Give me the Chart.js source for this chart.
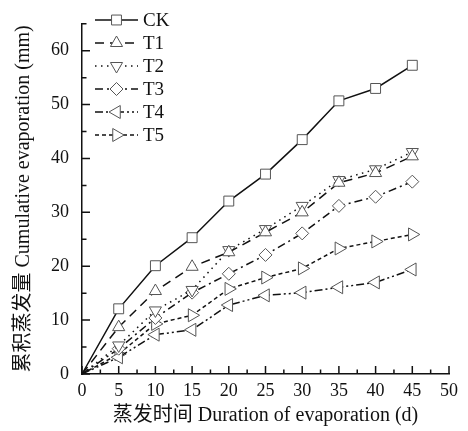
<!DOCTYPE html>
<html>
<head>
<meta charset="utf-8">
<script src="https://cdn.jsdelivr.net/npm/chart.js@4.4.1/dist/chart.umd.min.js"></script>
<style>
html,body{margin:0;padding:0;background:#fff;}
#wrap{width:468px;height:431px;position:relative;}
</style>
</head>
<body>
<div id="wrap"><canvas id="c" width="468" height="431"></canvas></div>
<script>
const days = [0, 5, 10, 15, 20, 25, 30, 35, 40, 45];
const CK = [0, 12.1, 20.1, 25.3, 32.1, 37.1, 43.5, 50.7, 53.0, 57.3];
const T1 = [0, 8.7, 15.4, 19.9, 22.6, 26.3, 30.0, 35.5, 37.3, 40.4];
const T2 = [0, 5.3, 11.8, 15.6, 23.0, 26.9, 31.2, 36.0, 38.0, 41.2];
const T3 = [0, 4.7, 10.4, 15.1, 18.6, 22.1, 26.1, 31.2, 32.9, 35.7];
const T4 = [0, 3.1, 7.3, 8.2, 12.8, 14.6, 15.1, 16.1, 17.0, 19.4];
const T5 = [0, 3.7, 9.3, 10.9, 15.8, 17.9, 19.6, 23.3, 24.6, 25.9];
const seriesNames = ['CK', 'T1', 'T2', 'T3', 'T4', 'T5'];
const xTickLabels = [0, 5, 10, 15, 20, 25, 30, 35, 40, 45, 50];
const yTickLabels = [0, 10, 20, 30, 40, 50, 60];

const FONT = "'Liberation Serif', 'Noto Sans CJK SC', serif";
const styles = [
  {style: 'rect', rot: 0, r: 7, dash: []},
  {style: 'triangle', rot: 0, r: 7, dash: [9, 6]},
  {style: 'triangle', rot: 180, r: 7, dash: [1.5, 4.5]},
  {style: 'rectRot', rot: 0, r: 6.5, dash: [8, 4, 2, 4]},
  {style: 'triangle', rot: 270, r: 7.5, dash: [8, 3, 2, 3, 2, 3]},
  {style: 'triangle', rot: 90, r: 7.5, dash: [4, 3]}
];
const allData = [CK, T1, T2, T3, T4, T5];

const datasets = allData.map((arr, i) => ({
  label: seriesNames[i],
  data: days.map((d, k) => ({x: d, y: arr[k]})),
  borderColor: '#111',
  borderWidth: 1.5,
  borderDash: styles[i].dash,
  pointStyle: styles[i].style,
  pointRotation: styles[i].rot,
  pointRadius: days.map((d) => d === 0 ? 0 : styles[i].r),
  pointBorderColor: '#555',
  pointBackgroundColor: '#fff',
  pointBorderWidth: 1,
  fill: false,
  tension: 0,
  clip: false
}));

const tickPlugin = {
  id: 'inTicks',
  afterDraw(chart) {
    const ctx = chart.ctx;
    const xs = chart.scales.x, ys = chart.scales.y;
    ctx.save();
    ctx.strokeStyle = '#111';
    ctx.lineWidth = 1.5;
    ctx.setLineDash([]);
    ctx.beginPath();
    for (let v = 0; v <= 50; v += 2.5) {
      const px = xs.getPixelForValue(v);
      const len = (v % 5 === 0) ? 8 : 4.5;
      ctx.moveTo(px, ys.bottom);
      ctx.lineTo(px, ys.bottom - len);
    }
    for (let v = 0; v <= 65; v += 5) {
      const py = ys.getPixelForValue(v);
      const len = (v % 10 === 0) ? 8 : 4.5;
      ctx.moveTo(xs.left, py);
      ctx.lineTo(xs.left + len, py);
    }
    ctx.stroke();
    ctx.restore();
  }
};

const legendPlugin = {
  id: 'customLegend',
  afterDraw(chart) {
    const ctx = chart.ctx;
    ctx.save();
    const x0 = 95, x1 = 138, tx = 143, y0 = 20, dy = 23;
    chart.data.datasets.forEach((ds, i) => {
      const y = y0 + i * dy;
      ctx.strokeStyle = '#111';
      ctx.lineWidth = 1.5;
      ctx.setLineDash(ds.borderDash);
      ctx.beginPath();
      ctx.moveTo(x0, y);
      ctx.lineTo(x1, y);
      ctx.stroke();
      ctx.setLineDash([]);
      ctx.strokeStyle = '#555';
      ctx.fillStyle = '#fff';
      ctx.lineWidth = 1;
      Chart.helpers.drawPoint(ctx, {pointStyle: ds.pointStyle, rotation: ds.pointRotation, radius: styles[i].r, borderWidth: 1}, (x0 + x1) / 2, y);
      ctx.fillStyle = '#111';
      ctx.font = "19px " + FONT;
      ctx.textBaseline = 'middle';
      ctx.textAlign = 'left';
      ctx.fillText(ds.label, tx, y + 1);
    });
    ctx.restore();
  }
};

new Chart(document.getElementById('c'), {
  type: 'line',
  data: {datasets},
  plugins: [tickPlugin, legendPlugin],
  options: {
    responsive: false,
    animation: false,
    devicePixelRatio: 1,
    layout: {padding: {top: 8, right: 19, left: 0, bottom: 0}},
    plugins: {legend: {display: false}, tooltip: {enabled: false}},
    scales: {
      x: {
        type: 'linear',
        min: 0, max: 50,
        afterFit(s) { s.height = 57; },
        afterBuildTicks(s) { s.ticks = xTickLabels.map(v => ({value: v})); },
        grid: {display: true, drawOnChartArea: false, drawTicks: false},
        border: {display: true, color: '#111', width: 1.5},
        ticks: {color: '#111', font: {family: FONT, size: 18}, padding: 6, maxRotation: 0, autoSkip: false},
        title: {display: true, text: '蒸发时间 Duration of evaporation (d)', color: '#111', font: {family: FONT, size: 20}, padding: {top: 0, bottom: 3}}
      },
      y: {
        type: 'linear',
        min: 0, max: 65,
        afterFit(s) { s.width = 82; },
        afterBuildTicks(s) { s.ticks = yTickLabels.map(v => ({value: v})); },
        grid: {display: true, drawOnChartArea: false, drawTicks: false},
        border: {display: true, color: '#111', width: 1.5},
        ticks: {color: '#111', font: {family: FONT, size: 18}, padding: 13, autoSkip: false},
        title: {display: true, text: '累积蒸发量 Cumulative evaporation (mm)', color: '#111', font: {family: FONT, size: 20}, padding: {top: 12, bottom: 0}}
      }
    }
  }
});
</script>
</body>
</html>
